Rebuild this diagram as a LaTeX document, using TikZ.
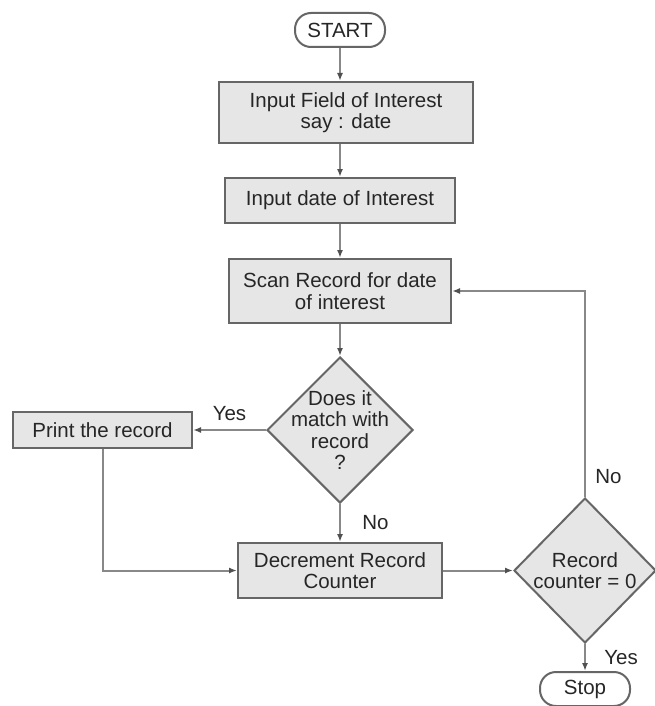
\documentclass[tikz,border=0pt]{standalone}
\usepackage{fontspec}
\setmainfont{Liberation Sans}
\usetikzlibrary{shapes.geometric,arrows.meta}

\definecolor{boxfill}{HTML}{E6E6E6}
\definecolor{boxline}{HTML}{666666}
\definecolor{flowline}{HTML}{888888}
\definecolor{tipcol}{HTML}{505050}
\definecolor{ink}{HTML}{262626}

\tikzset{
  every node/.style={font=\fontsize{20.5}{21.5}\selectfont, text=ink},
  process/.style={draw=boxline, fill=boxfill, line width=2pt, align=center, inner sep=0pt},
  decision/.style={diamond, draw=boxline, fill=boxfill, line width=2pt, align=center, inner sep=-10pt},
  terminal/.style={draw=boxline, fill=white, line width=2pt, rounded corners=16pt,
    minimum width=90pt, minimum height=34pt, inner sep=0pt},
  flow/.style={flowline, line width=2pt, -{Latex[length=8pt,width=6pt,color=tipcol]}},
}

\begin{document}
\begin{tikzpicture}[x=1pt, y=-1pt]
\useasboundingbox (0,0) rectangle (654,706);
% main column
\node[terminal] (start) at (340,30) {START};
\node[process, minimum width=254pt, minimum height=61pt] (field) at (346,112.5) {Input Field of Interest\\say : date};
\node[process, minimum width=230pt, minimum height=45pt] (datein) at (340,200.5) {Input date of Interest};
\node[process, minimum width=222pt, minimum height=64pt] (scan) at (340,291) {Scan Record for date\\of interest};
\node[decision, minimum width=146pt, minimum height=146pt] (match) at (340,430) {Does it\\match with\\record\\?};
\node[process, minimum width=204pt, minimum height=55pt] (decr) at (340,570.5) {Decrement Record\\Counter};
% side branches
\node[process, minimum width=179pt, minimum height=36pt] (print) at (102.5,430) {Print the record};
\node[decision, minimum width=142pt, minimum height=145pt] (counter) at (585,570.5) {Record\\counter = 0};
\node[terminal] (stop) at (585,689) {Stop};

% connectors
\draw[flow] (start) -- (start |- field.north);
\draw[flow] (field.south -| start) -- (datein);
\draw[flow] (datein) -- (scan);
\draw[flow] (scan) -- (match);
\draw[flow] (match) -- node[above=5pt] {Yes} (print);
\draw[flow] (match) -- node[right=18pt] {No} (decr);
\draw[flow] (print) |- (decr);
\draw[flow] (decr) -- (counter);
\draw[flow] (counter) |- node[pos=0.05, right=6pt] {No} (scan);
\draw[flow] (counter) -- node[right=15pt] {Yes} (stop);
\end{tikzpicture}
\end{document}
